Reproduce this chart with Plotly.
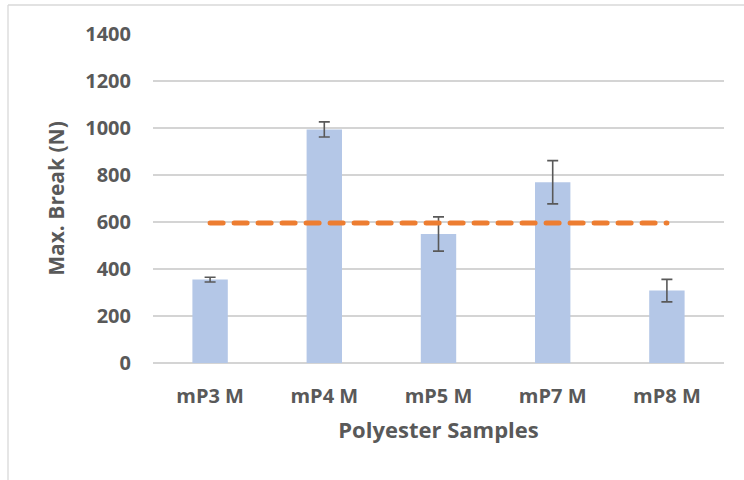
import plotly.graph_objects as go

categories = ["mP3 M", "mP4 M", "mP5 M", "mP7 M", "mP8 M"]
max_break = [355, 994, 549, 769, 308]
error_vals = [10, 32, 73, 92, 48]
average_line = [596, 596, 596, 596, 596]
y_ticks = [0, 200, 400, 600, 800, 1000, 1200, 1400]

FONT = "Open Sans"
GRAY = "#595959"

fig = go.Figure()
fig.add_trace(go.Bar(
    x=categories, y=max_break,
    marker=dict(color="#b4c7e7", line=dict(width=0)),
    error_y=dict(type="data", array=error_vals, visible=True,
                 color=GRAY, thickness=1.6, width=5.5),
    width=0.31, showlegend=False,
))
fig.add_trace(go.Scatter(
    x=categories, y=average_line, mode="lines",
    line=dict(color="#ed7d31", width=5, dash="13px,11px"),
    showlegend=False,
))

W, H = 744, 480
L, T, R, B = 153, 34, 20, 117
fig.update_layout(
    width=W, height=H,
    margin=dict(l=L, r=R, t=T, b=B),
    paper_bgcolor="white", plot_bgcolor="white",
    font=dict(family=FONT, color=GRAY),
    xaxis=dict(
        showgrid=False, showline=False, zeroline=False,
        tickfont=dict(family=FONT, size=20, color=GRAY, weight=700),
        ticks="outside", ticklen=15, tickcolor="rgba(0,0,0,0)",
        title=dict(text="Polyester Samples", standoff=14,
                   font=dict(family=FONT, size=22, color=GRAY, weight=700)),
    ),
    yaxis=dict(
        range=[0, 1400], tickvals=y_ticks,
        showgrid=True, gridcolor="#d4d4d4", gridwidth=1.5,
        zeroline=True, zerolinecolor="#d4d4d4", zerolinewidth=1.5,
        showline=False,
        tickfont=dict(family=FONT, size=20, color=GRAY, weight=700),
        ticks="outside", ticklen=17, tickcolor="rgba(0,0,0,0)",
        title=dict(text="Max. Break (N)", standoff=14,
                   font=dict(family=FONT, size=21, color=GRAY, weight=700)),
    ),
)

# chart-area border: top edge at y=5px, left edge at x=8px (page pixels)
pw, ph = W - L - R, H - T - B
bx = (8 - L) / pw
by = (H - B - 5) / ph
fig.add_shape(type="line", xref="paper", yref="paper",
              x0=bx, x1=1.2, y0=by, y1=by,
              line=dict(color="#d9d9d9", width=1.3))
fig.add_shape(type="line", xref="paper", yref="paper",
              x0=bx, x1=bx, y0=by, y1=-0.5,
              line=dict(color="#d9d9d9", width=1.3))

post = (
    "document.body.style.margin='0';"
    "document.querySelectorAll('.scatterlayer .js-line').forEach("
    "function(p){p.style.strokeLinecap='round';});"
)
fig.write_html("out.html", post_script=post,
               config={"displayModeBar": False, "responsive": False})
